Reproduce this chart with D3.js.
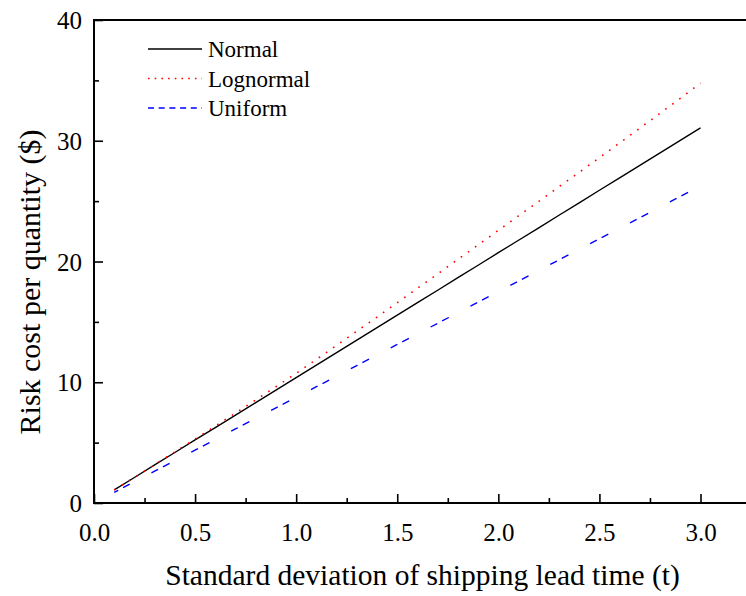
<!DOCTYPE html>
<html>
<head>
<meta charset="utf-8">
<script src="https://cdn.jsdelivr.net/npm/d3@7"></script>
<style>
  html, body { margin: 0; padding: 0; background: #fff; }
  svg { display: block; }
  text { font-family: "Liberation Serif", "Times New Roman", serif; fill: #000; }
</style>
</head>
<body>
<svg id="chart" width="746" height="596"></svg>
<script>
// Standard deviation of shipping lead time (t)
const leadTimeSd = [0.1, 0.2, 0.3, 0.4, 0.5, 0.6, 0.7, 0.8, 0.9, 1.0,
                    1.1, 1.2, 1.3, 1.4, 1.5, 1.6, 1.7, 1.8, 1.9, 2.0,
                    2.1, 2.2, 2.3, 2.4, 2.5, 2.6, 2.7, 2.8, 2.9, 3.0];

// Risk cost per quantity ($) for each lead-time distribution
const normalCost = [1.08, 2.11, 3.15, 4.18, 5.22, 6.25, 7.28, 8.32, 9.35, 10.39,
                    11.42, 12.45, 13.49, 14.52, 15.56, 16.59, 17.62, 18.66, 19.69, 20.73,
                    21.76, 22.79, 23.83, 24.86, 25.90, 26.93, 27.96, 29.00, 30.03, 31.07];
const lognormalCost = [1.08, 2.12, 3.17, 4.23, 5.30, 6.37, 7.45, 8.54, 9.63, 10.74,
                       11.89, 13.05, 14.23, 15.40, 16.59, 17.78, 18.97, 20.18, 21.37, 22.58,
                       23.78, 24.98, 26.19, 27.39, 28.60, 29.82, 31.04, 32.28, 33.51, 34.77];
const uniformCost = [0.88, 1.76, 2.63, 3.51, 4.38, 5.26, 6.13, 7.01, 7.88, 8.76,
                     9.63, 10.51, 11.38, 12.26, 13.13, 14.01, 14.88, 15.76, 16.63, 17.51,
                     18.38, 19.26, 20.13, 21.01, 21.88, 22.76, 23.63, 24.51, 25.38, 26.26];

const seriesNames = ["Normal", "Lognormal", "Uniform"];
const xTickValues = [0, 0.5, 1.0, 1.5, 2.0, 2.5, 3.0];
const xMinorTicks = [0.25, 0.75, 1.25, 1.75, 2.25, 2.75];
const yTickValues = [0, 10, 20, 30, 40];
const yMinorTicks = [5, 15, 25, 35];

const svg = d3.select("#chart");

const plotLeft = 94, plotTop = 20, plotBottom = 503;
const x = d3.scaleLinear().domain([0, 3]).range([plotLeft, 700.5]);
const y = d3.scaleLinear().domain([0, 40]).range([plotBottom, plotTop]);
const xEnd = x(3.25);

const series = [
  { name: seriesNames[0], values: normalCost, color: "#000000", dash: null, legendDash: null, width: 1.4 },
  { name: seriesNames[1], values: lognormalCost, color: "#ff0000", dash: "1.6 7.1", legendDash: "1.6 5.1", width: 1.6 },
  { name: seriesNames[2], values: uniformCost, color: "#0000ff", dash: "7.5 5.5 7.5 24.5", legendDash: "6 4.7", offset: 3, width: 1.4 }
];

const serif = "'Liberation Serif', 'Times New Roman', serif";

// Axes with inward ticks
const xAxis = d3.axisBottom(x).tickValues(xTickValues).tickFormat(d3.format(".1f"))
  .tickSizeInner(-9).tickSizeOuter(0).tickPadding(20);
const gx = svg.append("g").attr("transform", `translate(0,${plotBottom})`).call(xAxis)
  .attr("font-family", serif);
gx.select(".domain").remove();
gx.selectAll(".tick line").attr("stroke", "#000").attr("stroke-width", 1.6);
gx.selectAll(".tick text").attr("font-size", 25).attr("dy", "0.71em").style("font-family", serif);

svg.append("g").attr("transform", `translate(0,${plotBottom})`)
  .call(d3.axisBottom(x).tickValues(xMinorTicks).tickFormat("").tickSizeInner(-5).tickSizeOuter(0))
  .call(g => g.select(".domain").remove())
  .selectAll(".tick line").attr("stroke", "#000").attr("stroke-width", 1.6);

const yAxis = d3.axisLeft(y).tickValues(yTickValues).tickFormat(d3.format("d"))
  .tickSizeInner(-9).tickSizeOuter(0).tickPadding(12);
const gy = svg.append("g").attr("transform", `translate(${plotLeft},0)`).call(yAxis)
  .attr("font-family", serif);
gy.select(".domain").remove();
gy.selectAll(".tick line").attr("stroke", "#000").attr("stroke-width", 1.6);
gy.selectAll(".tick text").attr("font-size", 25).attr("dy", "0.34em").style("font-family", serif);

svg.append("g").attr("transform", `translate(${plotLeft},0)`)
  .call(d3.axisLeft(y).tickValues(yMinorTicks).tickFormat("").tickSizeInner(-5).tickSizeOuter(0))
  .call(g => g.select(".domain").remove())
  .selectAll(".tick line").attr("stroke", "#000").attr("stroke-width", 1.6);

// Frame (open on the right beyond the page edge)
svg.append("rect")
  .attr("x", plotLeft).attr("y", plotTop)
  .attr("width", xEnd - plotLeft).attr("height", plotBottom - plotTop)
  .attr("fill", "none").attr("stroke", "#000").attr("stroke-width", 2);

// Series lines
const line = d3.line().x((d, i) => x(leadTimeSd[i])).y(d => y(d));
series.forEach(s => {
  svg.append("path")
    .datum(s.values)
    .attr("d", line)
    .attr("fill", "none")
    .attr("stroke", s.color)
    .attr("stroke-width", s.width)
    .attr("stroke-dasharray", s.dash)
    .attr("stroke-dashoffset", s.offset || 0);
});

// Legend
const legend = svg.append("g").attr("transform", "translate(148,49)");
series.forEach((s, i) => {
  const row = legend.append("g").attr("transform", `translate(0,${i * 29.5})`);
  row.append("line")
    .attr("x1", 0).attr("x2", 54).attr("y1", 0).attr("y2", 0)
    .attr("stroke", s.color).attr("stroke-width", s.width)
    .attr("stroke-dasharray", s.legendDash);
  row.append("text")
    .attr("x", 60).attr("y", 8)
    .attr("font-size", 23)
    .text(s.name);
});

// Axis titles
svg.append("text")
  .attr("x", (plotLeft + xEnd) / 2).attr("y", 585)
  .attr("text-anchor", "middle")
  .attr("font-size", 29.5)
  .text("Standard deviation of shipping lead time (t)");

svg.append("text")
  .attr("transform", "translate(40,282) rotate(-90)")
  .attr("text-anchor", "middle")
  .attr("font-size", 30)
  .text("Risk cost per quantity ($)");
</script>
</body>
</html>
